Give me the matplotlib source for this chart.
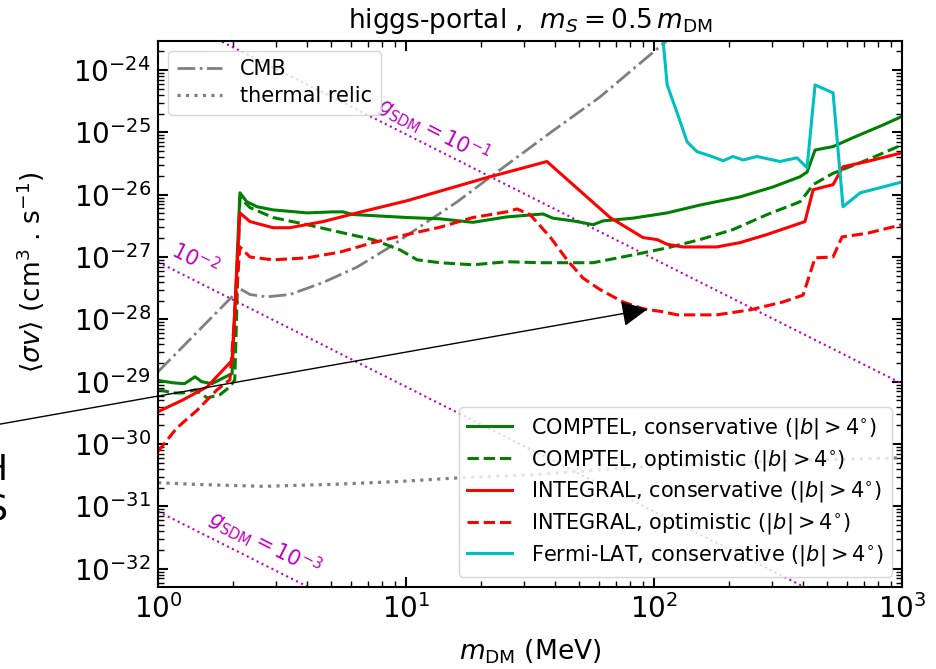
import numpy as np
import matplotlib
matplotlib.use("Agg")
import matplotlib.pyplot as plt
from matplotlib.ticker import LogLocator, NullFormatter

# ---- limits and major ticks (DM mass in MeV, <sigma v> in cm^3/s) ----
m_dm_lim = [1.0, 1000.0]
sv_lim = [5.1e-33, 2.95e-24]
x_ticks = [1e0, 1e1, 1e2, 1e3]
y_ticks = [1e-32, 1e-31, 1e-30, 1e-29, 1e-28, 1e-27, 1e-26, 1e-25, 1e-24]

# ---- COMPTEL, conservative ----
m_comptel_cons = [1.0, 1.15, 1.28, 1.41, 1.50, 1.65, 1.81, 1.99, 2.14, 2.28, 2.51, 2.91,
                  3.99, 5.08, 5.57, 6.11, 10.1, 13.7, 18.6, 25.5, 35.7, 39.1, 47.1, 56.8,
                  62.3, 82.2, 113, 153, 222, 302, 388, 414, 446, 527, 634, 722, 838, 1000]
sv_comptel_cons = [1.05e-29, 9.6e-30, 9.3e-30, 1.2e-29, 1.0e-29, 9.3e-30, 1.12e-29, 1.35e-29,
                   1.07e-26, 7.7e-27, 6.4e-27, 5.7e-27, 5.1e-27, 5.3e-27, 5.3e-27, 4.8e-27,
                   4.3e-27, 4.1e-27, 3.6e-27, 4.4e-27, 4.9e-27, 4.2e-27, 3.8e-27, 3.3e-27,
                   3.8e-27, 4.2e-27, 5.1e-27, 6.8e-27, 9.2e-27, 1.33e-26, 1.94e-26, 2.3e-26,
                   5.2e-26, 5.9e-26, 8.2e-26, 1.02e-25, 1.31e-25, 1.8e-25]

# ---- COMPTEL, optimistic ----
m_comptel_opt = [1.0, 1.15, 1.26, 1.41, 1.58, 1.78, 1.95, 2.04, 2.14, 2.35, 2.91, 3.99, 5.42,
                 7.36, 9.46, 11.1, 13.7, 18.6, 25.5, 34.7, 44.6, 56.8, 82.2, 113, 153, 208,
                 286, 388, 414, 438, 527, 722, 1000]
sv_comptel_opt = [7.5e-30, 6.6e-30, 6.6e-30, 7.4e-30, 5.5e-30, 6.2e-30, 8.3e-30, 1.07e-29,
                  8.9e-27, 6.2e-27, 4.3e-27, 3.3e-27, 2.5e-27, 1.9e-27, 1.3e-27, 9.0e-28,
                  8.1e-28, 7.5e-28, 8.4e-28, 8.1e-28, 8.1e-28, 8.1e-28, 1.08e-27, 1.4e-27,
                  1.9e-27, 2.75e-27, 4.8e-27, 7.7e-27, 1.07e-26, 1.45e-26, 2.2e-26, 3.6e-26,
                  6.3e-26]

# ---- INTEGRAL, conservative ----
m_integral_cons = [1.0, 1.26, 1.58, 1.99, 2.14, 2.35, 2.91, 3.40, 4.63, 6.35, 10.1, 20.4,
                   37.0, 55.2, 66.5, 80.0, 90.3, 103, 113, 131, 179, 222, 286, 406, 438, 527,
                   578, 722, 1000]
sv_integral_cons = [3.3e-30, 5.1e-30, 8.3e-30, 2.2e-29, 5.1e-27, 3.7e-27, 2.95e-27, 2.95e-27,
                    3.7e-27, 5.1e-27, 8.0e-27, 1.8e-26, 3.4e-26, 8.3e-27, 4.3e-27, 2.75e-27,
                    2.05e-27, 1.9e-27, 1.6e-27, 1.45e-27, 1.45e-27, 1.7e-27, 2.3e-27, 3.7e-27,
                    1.2e-26, 1.45e-26, 2.8e-26, 3.4e-26, 4.7e-26]

# ---- INTEGRAL, optimistic ----
m_integral_opt = [1.0, 1.19, 1.44, 1.73, 1.95, 2.14, 2.35, 2.91, 3.99, 5.42, 7.36, 10.1, 13.7,
                  18.6, 25.5, 28.0, 31.6, 38.1, 44.6, 51.7, 60.6, 75.0, 90.3, 109, 124, 179,
                  244, 331, 399, 446, 527, 573, 722, 1000]
sv_integral_opt = [7.6e-31, 1.8e-30, 3.5e-30, 7.4e-30, 1.07e-29, 1.45e-27, 1.0e-27, 9.0e-28,
                   9.7e-28, 1.2e-27, 1.7e-27, 2.3e-27, 3.0e-27, 4.3e-27, 5.3e-27, 5.9e-27,
                   4.8e-27, 2.1e-27, 9.0e-28, 4.6e-28, 3.0e-28, 1.9e-28, 1.48e-28, 1.32e-28,
                   1.18e-28, 1.18e-28, 1.42e-28, 1.9e-28, 2.45e-28, 9.7e-28, 1.0e-27, 2.1e-27,
                   2.4e-27, 3.3e-27]

# ---- Fermi-LAT, conservative ----
m_fermi_cons = [108, 113, 124, 136, 149, 168, 190, 208, 229, 260, 322, 377, 414, 446, 527,
                578, 678, 838, 1000]
sv_fermi_cons = [4.0e-24, 5.75e-25, 2.04e-25, 7.0e-26, 4.9e-26, 4.2e-26, 3.5e-26, 4.1e-26,
                 3.6e-26, 4.1e-26, 3.4e-26, 3.9e-26, 2.7e-26, 5.75e-25, 4.3e-25, 6.4e-27,
                 1.07e-26, 1.33e-26, 1.6e-26]

# ---- CMB bound ----
m_cmb = [1.0, 2.14, 2.35, 2.75, 3.40, 4.63, 6.35, 8.62, 11.7, 16.1, 21.8, 38.1, 60.6, 127]
sv_cmb = [1.44e-29, 3.1e-28, 2.5e-28, 2.3e-28, 2.5e-28, 3.9e-28, 6.9e-28, 1.45e-27, 3.3e-27,
          7.7e-27, 1.9e-26, 9.8e-26, 3.7e-25, 4.4e-24]

# ---- thermal relic cross section ----
m_relic = [1.0, 1.44, 2.65, 4.94, 9.2, 17.0, 31.6, 96, 322, 1000]
sv_relic = [2.4e-31, 2.25e-31, 2.1e-31, 2.25e-31, 2.5e-31, 2.9e-31, 3.2e-31, 4.4e-31,
            5.4e-31, 6.0e-31]

# ---- fixed-coupling contours ----
m_coupling = [1.0, 1000.0]
sv_g1e1 = [9.3e-24, 9.3e-30]
sv_g1e2 = [8.3e-28, 8.3e-34]
sv_g1e3 = [8.3e-32, 8.3e-38]

# ---- figure ----
fig = plt.figure(figsize=(9.37, 6.69), dpi=100)
ax = fig.add_axes([0.1686, 0.1226, 0.7941, 0.8166])
ax.set_xscale("log")
ax.set_yscale("log")

mc = "m"
for sv in (sv_g1e1, sv_g1e2, sv_g1e3):
    ax.plot(m_coupling, sv, ls=":", color=mc, lw=1.5)

ax.text(12.9, 1.05e-25, r"$g_{\rm SDM} = 10^{-1}$", color=mc, fontsize=15,
        rotation=-27, ha="center", va="center", rotation_mode="anchor")
ax.text(1.41, 9.3e-28, r"$10^{-2}$", color=mc, fontsize=15,
        rotation=-27, ha="center", va="center", rotation_mode="anchor")
ax.text(2.70, 2.5e-32, r"$g_{\rm SDM} = 10^{-3}$", color=mc, fontsize=15,
        rotation=-27, ha="center", va="center", rotation_mode="anchor")

l_cmb, = ax.plot(m_cmb, sv_cmb, ls="-.", color="gray", lw=2, label="CMB")
l_rel, = ax.plot(m_relic, sv_relic, ls=":", color="gray", lw=2.3, label="thermal relic")

h1, = ax.plot(m_comptel_cons, sv_comptel_cons, "-", color="green", lw=2.2,
              label=r"COMPTEL, conservative ($|b| > 4^{\circ}$)")
h2, = ax.plot(m_comptel_opt, sv_comptel_opt, "--", color="green", lw=2.2,
              label=r"COMPTEL, optimistic ($|b| > 4^{\circ}$)")
h3, = ax.plot(m_integral_cons, sv_integral_cons, "-", color="red", lw=2.2,
              label=r"INTEGRAL, conservative ($|b| > 4^{\circ}$)")
h4, = ax.plot(m_integral_opt, sv_integral_opt, "--", color="red", lw=2.2,
              label=r"INTEGRAL, optimistic ($|b| > 4^{\circ}$)")
h5, = ax.plot(m_fermi_cons, sv_fermi_cons, "-", color="c", lw=2.2,
              label=r"Fermi-LAT, conservative ($|b| > 4^{\circ}$)")

ax.set_xlim(*m_dm_lim)
ax.set_ylim(*sv_lim)

leg_kw = dict(fontsize=15, handlelength=2.15, handletextpad=0.9, labelspacing=0.33)
leg1 = ax.legend(handles=[l_cmb, l_rel], loc="upper left", **leg_kw)
ax.add_artist(leg1)
ax.legend(handles=[h1, h2, h3, h4, h5], loc="lower right", **leg_kw)

# ticks: every decade labelled, minor ticks at 2..9
ax.set_xticks(x_ticks)
ax.set_yticks(y_ticks)
ax.xaxis.set_minor_locator(LogLocator(base=10, subs=np.arange(2, 10), numticks=100))
ax.yaxis.set_minor_locator(LogLocator(base=10, subs=np.arange(2, 10), numticks=100))
ax.xaxis.set_minor_formatter(NullFormatter())
ax.yaxis.set_minor_formatter(NullFormatter())
ax.set_xlim(*m_dm_lim)
ax.set_ylim(*sv_lim)
ax.tick_params(which="both", direction="in", top=True, right=True, labelsize=20)
ax.tick_params(which="major", length=7, width=1.5, pad=5)
ax.tick_params(which="minor", length=4, width=1.0)
for s in ax.spines.values():
    s.set_linewidth(1.5)

ax.set_title(r"higgs-portal ,  $m_S = 0.5\,m_{\rm DM}$", fontsize=19, pad=9)
ax.set_xlabel(r"$m_{\rm DM}$ (MeV)", fontsize=19, labelpad=10)
ax.set_ylabel(r"$\langle \sigma v \rangle$ (cm$^3$ . s$^{-1}$)", fontsize=19)
ax.yaxis.set_label_coords(-0.149, 0.577)

# pointer to the INTEGRAL optimistic minimum
ax.annotate("", xy=(94, 1.45e-28), xycoords="data",
            xytext=(-5, 244), textcoords="figure pixels",
            arrowprops=dict(arrowstyle="-|>,head_length=0.4,head_width=0.2",
                            mutation_scale=40, color="black", lw=1,
                            shrinkA=0, shrinkB=0),
            annotation_clip=False)

# partially visible side text
fig.text(8 / 937, 1 - 490 / 669, "H\nS", fontsize=25, ha="right", va="center",
         linespacing=1.2)

fig.savefig("out.png", dpi=100)
